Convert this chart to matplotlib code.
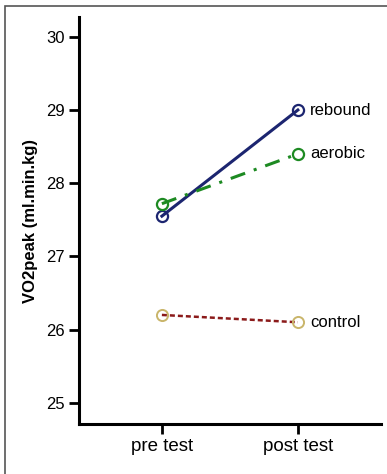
import matplotlib.pyplot as plt
from matplotlib.patches import Rectangle

# group means, pre test / post test
phases = ['pre test', 'post test']
rebound = [27.55, 29.0]
aerobic = [27.72, 28.4]
control = [26.2, 26.1]
y_ticks = [25, 26, 27, 28, 29, 30]

plt.rcParams['font.family'] = ['Liberation Sans', 'DejaVu Sans']

fig = plt.figure(figsize=(3.87, 4.74), dpi=100)
ax = fig.add_axes([0.204, 0.1055, 0.78, 0.8585])

x = range(len(phases))
ax.plot(x, rebound, color='#1c2570', lw=2.2, marker='o', ms=8, mfc='none',
        mec='#1c2570', mew=1.6)
ax.plot(x, aerobic, color='#1d8a22', lw=2.2, ls=(0, (5, 3, 1, 3)), marker='o',
        ms=8, mfc='none', mec='#1d8a22', mew=1.6)
ax.plot(x, control, color='#8b1a1a', lw=1.8, ls=(0, (2, 1.2)), marker='o',
        ms=8, mfc='none', mec='#c9b56a', mew=1.4)

ax.text(1.09, rebound[1], 'rebound', va='center', ha='left', fontsize=12)
ax.text(1.09, aerobic[1], 'aerobic', va='center', ha='left', fontsize=12)
ax.text(1.09, control[1], 'control', va='center', ha='left', fontsize=12)

ax.set_xlim(-0.61, 1.61)
ax.set_ylim(24.71, 30.27)
ax.set_xticks(list(x))
ax.set_xticklabels(phases, fontsize=13.5)
ax.set_yticks(y_ticks)
ax.set_yticklabels([str(t) for t in y_ticks], fontsize=12)
ax.set_ylabel('VO2peak (ml.min.kg)', fontsize=12, fontweight='bold', labelpad=6)

for s in ['top', 'right']:
    ax.spines[s].set_visible(False)
for s in ['left', 'bottom']:
    ax.spines[s].set_linewidth(2.2)
ax.tick_params(axis='both', direction='out', length=7, width=2, pad=3)

# outer frame of the figure
fig.patches.append(Rectangle((5 / 387, -0.01), 1.0, 1 - 6 / 474 + 0.01,
                             transform=fig.transFigure, fill=False,
                             edgecolor='#555555', lw=1.2))

fig.savefig('out.png', dpi=100)
